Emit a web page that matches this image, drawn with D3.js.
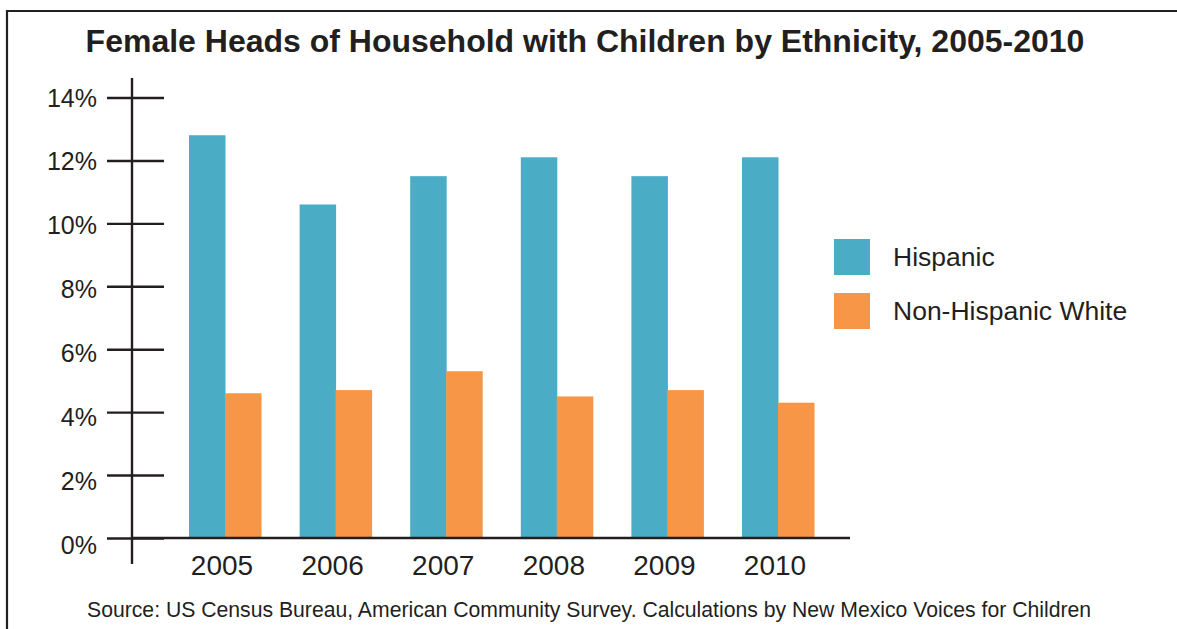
<!DOCTYPE html>
<html>
<head>
<meta charset="utf-8">
<script src="https://cdn.jsdelivr.net/npm/d3@7"></script>
<style>
  html, body { margin: 0; padding: 0; background: #fff; }
  svg { display: block; font-family: "Liberation Sans", Arial, Helvetica, sans-serif; }
</style>
</head>
<body>
<svg id="chart" width="1177" height="629"></svg>
<script>
// Share of households headed by women with children, by ethnicity (%)
const years = ["2005", "2006", "2007", "2008", "2009", "2010"];
const seriesNames = ["Hispanic", "Non-Hispanic White"];
const hispanic = [12.8, 10.6, 11.5, 12.1, 11.5, 12.1];
const nonHispanicWhite = [4.6, 4.7, 5.3, 4.5, 4.7, 4.3];
const yTicks = [0, 2, 4, 6, 8, 10, 12, 14];
const colors = ["#4bacc6", "#f79646"];
const ink = "#231f20";

const svg = d3.select("#chart");

// outer frame
svg.append("path")
  .attr("d", "M7,640 V11 H1190")
  .attr("fill", "none")
  .attr("stroke", ink)
  .attr("stroke-width", 2.2);

// title
svg.append("text")
  .attr("x", 585).attr("y", 52)
  .attr("text-anchor", "middle")
  .attr("font-size", 32).attr("font-weight", "bold")
  .attr("fill", ink)
  .text("Female Heads of Household with Children by Ethnicity, 2005-2010");

const y = d3.scaleLinear().domain([0, 14]).range([538, 97.5]);
// tick labels sit on a slightly wider spacing than the tick marks
const yLabel = d3.scaleLinear().domain([0, 14]).range([544, 97]);
const x0 = d3.scaleBand().domain(years).range([189, 814]).paddingInner(0.349).paddingOuter(0);
const x1 = d3.scaleBand().domain(seriesNames).range([0, x0.bandwidth()]);

const rows = years.map((yr, i) => ({ year: yr, values: [hispanic[i], nonHispanicWhite[i]] }));

// bars
const groups = svg.append("g").selectAll("g")
  .data(rows).join("g")
  .attr("transform", d => `translate(${x0(d.year)},0)`);

groups.selectAll("rect")
  .data(d => d.values.map((v, k) => ({ name: seriesNames[k], value: v, k })))
  .join("rect")
  .attr("x", d => x1(d.name))
  .attr("width", x1.bandwidth() + 0.5)
  .attr("y", d => y(d.value))
  .attr("height", d => y(0) - y(d.value))
  .attr("fill", d => colors[d.k]);

// y axis: ticks crossing the vertical axis line
const axisX = 132;
const yAxis = svg.append("g").attr("transform", `translate(${axisX},0)`)
  .call(d3.axisLeft(y).tickValues(yTicks).tickSize(0).tickFormat(d => d + "%"));
yAxis.select(".domain").remove();
yAxis.selectAll(".tick text")
  .attr("x", -35)
  .attr("dy", "0.36em")
  .attr("transform", d => `translate(0,${yLabel(d) - y(d)})`)
  .attr("font-size", 25)
  .attr("font-family", "Liberation Sans, Arial, sans-serif")
  .attr("fill", ink);
yAxis.selectAll(".tick line")
  .attr("x1", -25).attr("x2", 32)
  .attr("stroke", ink).attr("stroke-width", 2.4);
yAxis.append("line")
  .attr("x1", 0).attr("x2", 0)
  .attr("y1", 78).attr("y2", 564)
  .attr("stroke", ink).attr("stroke-width", 2.4);

// x axis baseline and year labels
const xAxis = svg.append("g").attr("transform", `translate(0,${y(0)})`)
  .call(d3.axisBottom(x0).tickSize(0).tickPadding(0));
xAxis.select(".domain").remove();
xAxis.append("line")
  .attr("x1", axisX).attr("x2", 850)
  .attr("stroke", ink).attr("stroke-width", 2.4);
xAxis.selectAll(".tick text")
  .attr("x", -3)
  .attr("y", 37)
  .attr("dy", 0)
  .attr("font-size", 28)
  .attr("font-family", "Liberation Sans, Arial, sans-serif")
  .attr("fill", ink);

// legend
const legend = svg.append("g").selectAll("g")
  .data(seriesNames).join("g")
  .attr("transform", (d, i) => `translate(834,${239 + i * 54})`);
legend.append("rect")
  .attr("width", 36).attr("height", 36)
  .attr("fill", (d, i) => colors[i]);
legend.append("text")
  .attr("x", 59).attr("y", 27)
  .attr("font-size", 26.5)
  .attr("fill", ink)
  .text(d => d);

// source note
svg.append("text")
  .attr("x", 87).attr("y", 617)
  .attr("font-size", 21.2)
  .attr("fill", ink)
  .text("Source: US Census Bureau, American Community Survey. Calculations by New Mexico Voices for Children");
</script>
</body>
</html>
